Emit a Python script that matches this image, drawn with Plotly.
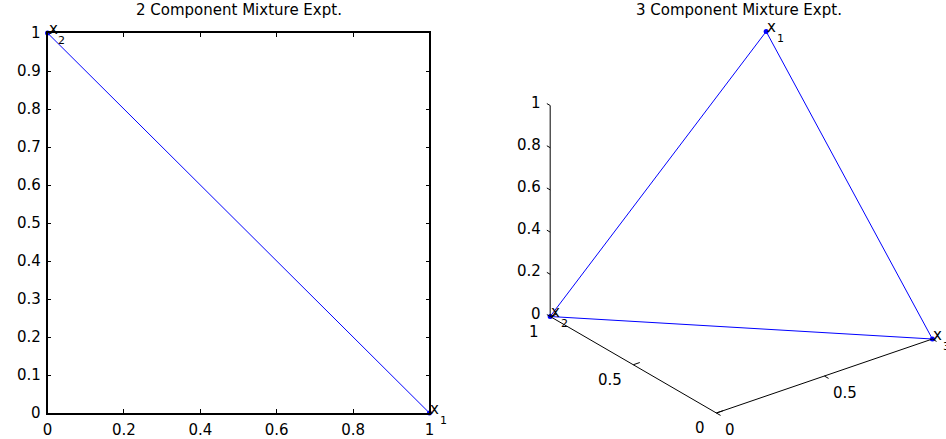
import plotly.graph_objects as go
import numpy as np

# ---------------- data ----------------
# 2-component mixture: simplex x1 + x2 = 1
two_x1 = [0, 1]
two_x2 = [1, 0]
two_vertex_names = ["2", "1"]          # vertex (0,1) is x2, vertex (1,0) is x1
left_xticks = [0, 0.2, 0.4, 0.6, 0.8, 1]
left_xticktext = ["0", "0.2", "0.4", "0.6", "0.8", "1"]
left_yticks = [0, 0.1, 0.2, 0.3, 0.4, 0.5, 0.6, 0.7, 0.8, 0.9, 1]
left_yticktext = ["0", "0.1", "0.2", "0.3", "0.4", "0.5", "0.6", "0.7", "0.8", "0.9", "1"]

# 3-component mixture: triangle vertices (a, b, c) as drawn
tri_names = ["1", "2", "3"]
tri_a = [1, 1, 0]
tri_b = [1, 0, 1]
tri_c = [1, 0, 0]
a_ticks = [0, 0.5, 1]
a_ticktext = ["0", "0.5", "1"]
b_ticks = [0, 0.5, 1]
b_ticktext = ["0", "0.5", ""]          # the "1" label falls outside the figure
c_ticks = [0, 0.2, 0.4, 0.6, 0.8, 1]
c_ticktext = ["0", "0.2", "0.4", "0.6", "0.8", "1"]

titles = ["2 Component Mixture Expt.", "3 Component Mixture Expt."]

# ---------------- style / view ----------------
W, H = 946, 439
FONT = "DejaVu Sans"
FS = 15
SUBFS = 11
BLUE = "#0000ff"

# orthographic view of the 3-D panel (screen pixels)
ORIGIN = np.array([719.0, 413.0])
VA = np.array([-168.0, -96.5])
VB = np.array([218.3, -74.0])
VC = np.array([0.0, -211.0])


def proj(a, b, c):
    a = np.asarray(a, float); b = np.asarray(b, float); c = np.asarray(c, float)
    x = ORIGIN[0] + a * VA[0] + b * VB[0] + c * VC[0]
    y = ORIGIN[1] + a * VA[1] + b * VB[1] + c * VC[1]
    return x, y


fig = go.Figure()

# ---------- left panel ----------
fig.add_trace(go.Scatter(x=two_x1, y=two_x2, mode="lines+markers",
                         line=dict(color=BLUE, width=1),
                         marker=dict(color=BLUE, size=5),
                         cliponaxis=False, xaxis="x", yaxis="y",
                         showlegend=False, hoverinfo="skip"))

annotations = []
tickfont = dict(family=FONT, size=FS, color="black")


def vertex_label(xref, yref, x, y, sub):
    annotations.append(dict(xref=xref, yref=yref, x=float(x), y=float(y), text="x",
                            showarrow=False, xanchor="left", yanchor="bottom",
                            borderpad=0, xshift=0, yshift=-5.5,
                            font=dict(family=FONT, size=FS, color="black")))
    annotations.append(dict(xref=xref, yref=yref, x=float(x), y=float(y), text=sub,
                            showarrow=False, xanchor="left", yanchor="bottom",
                            borderpad=0, xshift=9.5, yshift=-14.5,
                            font=dict(family=FONT, size=SUBFS, color="black")))


for x, y, n in zip(two_x1, two_x2, two_vertex_names):
    vertex_label("x", "y", x, y, n)

# y tick labels of the left panel (placed at the axis' tick values)
for t, s in zip(left_yticks, left_yticktext):
    annotations.append(dict(xref="x", yref="y", x=0, y=t, text=s,
                            showarrow=False, xanchor="right", yanchor="middle",
                            borderpad=0, xshift=-6, font=tickfont))

# ---------- right panel (projected 3-D) ----------
ta = tri_a + [tri_a[0]]
tb = tri_b + [tri_b[0]]
tc = tri_c + [tri_c[0]]
px, py = proj(ta, tb, tc)
fig.add_trace(go.Scatter(x=px, y=py, mode="lines", line=dict(color=BLUE, width=1),
                         xaxis="x2", yaxis="y2", showlegend=False, hoverinfo="skip"))
vx, vy = proj(tri_a, tri_b, tri_c)
fig.add_trace(go.Scatter(x=vx, y=vy, mode="markers", marker=dict(color=BLUE, size=5),
                         cliponaxis=False, xaxis="x2", yaxis="y2",
                         showlegend=False, hoverinfo="skip"))
for x, y, n in zip(vx, vy, tri_names):
    vertex_label("x2", "y2", x, y, n)

# axis lines
axis_segments = [
    ([0, 1], [0, 0], [0, 0]),   # a axis
    ([0, 0], [0, 1], [0, 0]),   # b axis
    ([1, 1], [0, 0], [0, 1]),   # c (vertical) axis
]
for sa, sb, sc in axis_segments:
    ax_, ay_ = proj(sa, sb, sc)
    fig.add_trace(go.Scatter(x=ax_, y=ay_, mode="lines", line=dict(color="black", width=1),
                             xaxis="x2", yaxis="y2", showlegend=False, hoverinfo="skip"))

# tick marks
tx, ty = [], []
for t in a_ticks:
    x0, y0 = proj(t, 0, 0)
    x1, y1 = proj(t, 0.03, 0)
    tx += [float(x0), float(x1), None]; ty += [float(y0), float(y1), None]
for t in b_ticks:
    x0, y0 = proj(0, t, 0)
    x1, y1 = proj(-0.025, t, 0)
    tx += [float(x0), float(x1), None]; ty += [float(y0), float(y1), None]
for t in c_ticks:
    x0, y0 = proj(1, 0, t)
    x1, y1 = proj(1.02, 0, t)
    tx += [float(x0), float(x1), None]; ty += [float(y0), float(y1), None]
fig.add_trace(go.Scatter(x=tx, y=ty, mode="lines", line=dict(color="black", width=1),
                         xaxis="x2", yaxis="y2", showlegend=False, hoverinfo="skip"))

# tick labels
for t, s in zip(a_ticks, a_ticktext):
    x, y = proj(t, 0, 0)
    annotations.append(dict(xref="x2", yref="y2", x=float(x), y=float(y), text=s,
                            showarrow=False, xanchor="right", yanchor="middle",
                            xshift=-9, yshift=-15, font=tickfont))
for t, s in zip(b_ticks, b_ticktext):
    if not s:
        continue
    x, y = proj(0, t, 0)
    annotations.append(dict(xref="x2", yref="y2", x=float(x), y=float(y), text=s,
                            showarrow=False, xanchor="left", yanchor="middle",
                            xshift=7, yshift=-17, font=tickfont))
for t, s in zip(c_ticks, c_ticktext):
    x, y = proj(1, 0, t)
    annotations.append(dict(xref="x2", yref="y2", x=float(x), y=float(y), text=s,
                            showarrow=False, xanchor="right", yanchor="middle",
                            xshift=-7, yshift=3, font=tickfont))

# titles
for cx, t in zip([236, 742], titles):
    annotations.append(dict(xref="paper", yref="paper", x=cx / W, y=1 - 9.5 / H, text=t,
                            showarrow=False, xanchor="center", yanchor="middle",
                            font=dict(family=FONT, size=FS, color="black")))

axis_common = dict(showline=True, linecolor="black", linewidth=1.5, mirror="ticks",
                   ticks="inside", ticklen=4, tickwidth=1, tickcolor="black",
                   showgrid=False, zeroline=False, tickfont=tickfont)

fig.update_layout(
    width=W, height=H,
    margin=dict(l=0, r=0, t=0, b=0),
    paper_bgcolor="white", plot_bgcolor="white",
    font=dict(family=FONT, size=FS, color="black"),
    xaxis=dict(domain=[43 / W, 429 / W], range=[0, 1], tickvals=left_xticks,
               ticktext=left_xticktext, anchor="y", ticklabelstandoff=2, **axis_common),
    yaxis=dict(domain=[26 / H, 406 / H], range=[0, 1], tickvals=left_yticks,
               showticklabels=False, anchor="x", **axis_common),
    xaxis2=dict(domain=[480 / W, 1], range=[480, W], visible=False, anchor="y2"),
    yaxis2=dict(domain=[0, 1], range=[H, 0], visible=False, anchor="x2"),
    annotations=annotations,
    showlegend=False,
)

fig.write_html("out.html")
